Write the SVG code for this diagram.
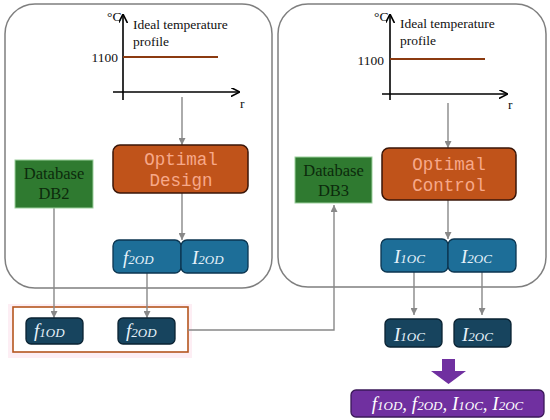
<svg xmlns="http://www.w3.org/2000/svg" width="550" height="420" viewBox="0 0 550 420">
<defs>
<style>
.panel{fill:#ffffff;stroke:#7f7f7f;stroke-width:1.5}
.axis{stroke:#000;stroke-width:1.6;fill:none}
.prof{stroke:#8B3A10;stroke-width:1.8}
.lbl{font-family:"Liberation Serif","Times New Roman",Tinos,"DejaVu Serif",serif;font-size:13.5px;fill:#111}
.opt{fill:#C0531A;stroke:#3a1608;stroke-width:1.5}
.optt{font-family:"Liberation Mono","Courier New",monospace;font-size:17.5px;fill:#F7A98A;text-anchor:middle}
.db{fill:#2F7A30;stroke:#9ccf9c;stroke-width:1}
.dbt{font-family:"Liberation Serif","Times New Roman",Tinos,"DejaVu Serif",serif;font-size:16.5px;fill:#0c2a0c;text-anchor:middle}
.blue{fill:#1D6E98;stroke:#0b3550;stroke-width:1.3}
.dark{fill:#17445E;stroke:#0a2232;stroke-width:1.3}
.purp{fill:#7030A0;stroke:#3a1858;stroke-width:1.3}
.math{font-family:"Liberation Serif","Times New Roman",Tinos,"DejaVu Serif",serif;font-style:italic;font-size:19px;fill:#e6f2fa}
.sub{font-size:13px;font-variant:small-caps}
.con{stroke:#888;stroke-width:1.4;fill:none}
</style>
<marker id="ah" viewBox="0 0 10 10" refX="10" refY="5" markerWidth="7" markerHeight="7" markerUnits="userSpaceOnUse" orient="auto">
<path d="M0,0 L10,5 L0,10 z" fill="#888"/>
</marker>
<marker id="ax" viewBox="0 0 10 10" refX="9" refY="5" markerWidth="9" markerHeight="9" markerUnits="userSpaceOnUse" orient="auto">
<path d="M0,0 L10,5 L0,10" fill="none" stroke="#000" stroke-width="1.8"/>
</marker>
</defs>
<rect width="550" height="420" fill="#fff"/>

<g id="panel-design">
<rect class="panel" x="5" y="4" width="267" height="284" rx="30"/>
</g>
<g id="panel-control">
<rect class="panel" x="278" y="4" width="268" height="283" rx="30"/>
</g>

<g id="design-output">
<rect x="8" y="304" width="184" height="54" fill="#fdeef4"/>
<rect x="13" y="307" width="175" height="45" fill="#fff" stroke="#B5561F" stroke-width="1.6"/>
</g>

<g id="graph-left">
<line class="axis" x1="123" y1="100" x2="123" y2="15" marker-end="url(#ax)"/>
<line class="axis" x1="113" y1="92" x2="239" y2="92" marker-end="url(#ax)"/>
<line class="prof" x1="123" y1="57" x2="218" y2="57"/>
<text class="lbl" x="107" y="21">°C</text>
<text class="lbl" x="133" y="29">Ideal temperature</text>
<text class="lbl" x="133" y="46">profile</text>
<text class="lbl" x="118" y="62" text-anchor="end">1100</text>
<text class="lbl" x="240" y="108" font-size="15">r</text>
</g>

<g id="graph-right">
<line class="axis" x1="390" y1="100" x2="390" y2="15" marker-end="url(#ax)"/>
<line class="axis" x1="382" y1="94" x2="507" y2="94" marker-end="url(#ax)"/>
<line class="prof" x1="390" y1="59" x2="485" y2="59"/>
<text class="lbl" x="374" y="21">°C</text>
<text class="lbl" x="400" y="28">Ideal temperature</text>
<text class="lbl" x="400" y="45">profile</text>
<text class="lbl" x="384" y="65" text-anchor="end">1100</text>
<text class="lbl" x="508" y="109" font-size="15">r</text>
</g>

<g id="connectors">
<line class="con" x1="182" y1="97" x2="182" y2="145" marker-end="url(#ah)"/>
<line class="con" x1="182" y1="193" x2="182" y2="240" marker-end="url(#ah)"/>
<line class="con" x1="448" y1="103" x2="448" y2="148" marker-end="url(#ah)"/>
<line class="con" x1="448" y1="200" x2="448" y2="239" marker-end="url(#ah)"/>
<line class="con" x1="54" y1="208" x2="54" y2="318" marker-end="url(#ah)"/>
<line class="con" x1="147" y1="273" x2="147" y2="318" marker-end="url(#ah)"/>
<polyline class="con" points="188,330 334,330 334,205" marker-end="url(#ah)"/>
<line class="con" x1="414" y1="272" x2="414" y2="315" marker-end="url(#ah)"/>
<line class="con" x1="482" y1="272" x2="482" y2="315" marker-end="url(#ah)"/>
</g>

<g id="optimal-design">
<rect class="opt" x="113" y="145" width="135" height="48" rx="7"/>
<text class="optt" x="181" y="165">Optimal</text>
<text class="optt" x="181" y="186">Design</text>
</g>

<g id="optimal-control">
<rect class="opt" x="382" y="148" width="134" height="52" rx="7"/>
<text class="optt" x="449" y="170">Optimal</text>
<text class="optt" x="449" y="191">Control</text>
</g>

<g id="db2">
<rect class="db" x="15" y="160" width="78" height="48"/>
<text class="dbt" x="54" y="179">Database</text>
<text class="dbt" x="54" y="199">DB2</text>
</g>

<g id="db3">
<rect class="db" x="295" y="157" width="77" height="46"/>
<text class="dbt" x="333.5" y="176">Database</text>
<text class="dbt" x="333.5" y="196">DB3</text>
</g>

<g id="f2od-top">
<rect class="blue" x="113" y="240" width="68" height="33" rx="6"/>
<text class="math" x="123" y="264">f<tspan class="sub">2OD</tspan></text>
</g>
<g id="i2od-top">
<rect class="blue" x="181" y="240" width="67" height="33" rx="6"/>
<text class="math" x="192" y="264">I<tspan class="sub">2OD</tspan></text>
</g>

<g id="i1oc-top">
<rect class="blue" x="381" y="239" width="67" height="33" rx="6"/>
<text class="math" x="394" y="263">I<tspan class="sub">1OC</tspan></text>
</g>
<g id="i2oc-top">
<rect class="blue" x="448" y="239" width="68" height="33" rx="6"/>
<text class="math" x="461" y="263">I<tspan class="sub">2OC</tspan></text>
</g>

<g id="f1od">
<rect class="dark" x="26" y="318" width="57" height="26" rx="5"/>
<text class="math" x="34" y="337">f<tspan class="sub">1OD</tspan></text>
</g>
<g id="f2od">
<rect class="dark" x="118" y="318" width="57" height="26" rx="5"/>
<text class="math" x="126" y="337">f<tspan class="sub">2OD</tspan></text>
</g>

<g id="i1oc">
<rect class="dark" x="385" y="319" width="57" height="28" rx="5"/>
<text class="math" x="394" y="341">I<tspan class="sub">1OC</tspan></text>
</g>
<g id="i2oc">
<rect class="dark" x="454" y="319" width="57" height="28" rx="5"/>
<text class="math" x="462" y="341">I<tspan class="sub">2OC</tspan></text>
</g>

<g id="big-arrow">
<path d="M442,359 L455,359 L455,371 L466,371 L448.5,384 L431,371 L442,371 z" fill="#7030A0"/>
</g>

<g id="result">
<rect class="purp" x="351" y="390" width="193" height="27" rx="5"/>
<text class="math" x="447.5" y="410" text-anchor="middle" style="fill:#fff">f<tspan class="sub">1OD</tspan>, f<tspan class="sub">2OD</tspan>, I<tspan class="sub">1OC</tspan>, I<tspan class="sub">2OC</tspan></text>
</g>
</svg>
